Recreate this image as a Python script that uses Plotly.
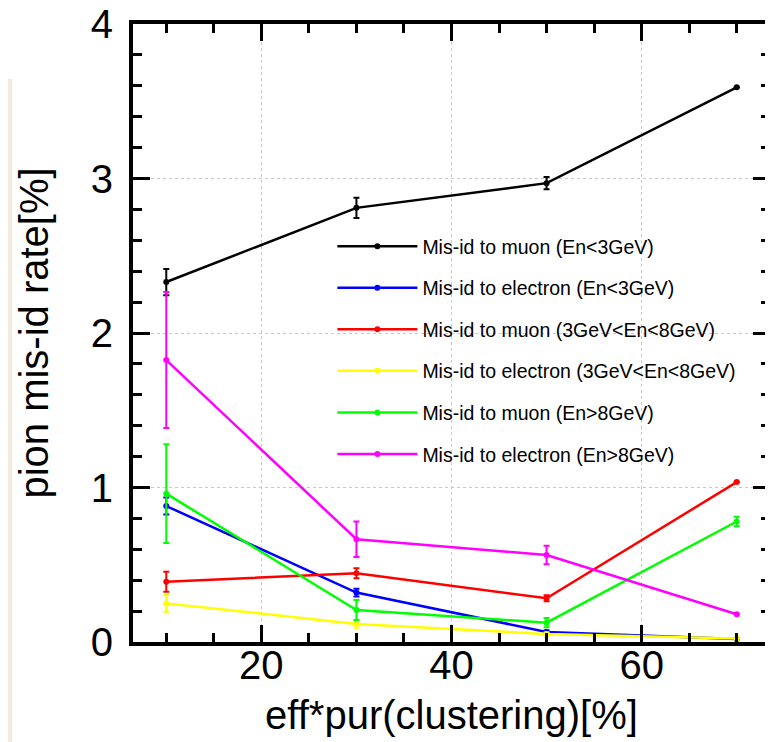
import plotly.graph_objects as go

x_vals = [10, 30, 50, 70]

names = [
    "Mis-id to muon (En<3GeV)",
    "Mis-id to electron (En<3GeV)",
    "Mis-id to muon (3GeV<En<8GeV)",
    "Mis-id to electron (3GeV<En<8GeV)",
    "Mis-id to muon (En>8GeV)",
    "Mis-id to electron (En>8GeV)",
]
colors = ["#000000", "#0000ff", "#ff0000", "#ffff00", "#00ff00", "#ff00ff"]

mu_low = [2.33, 2.81, 2.97, 3.59]
e_low = [0.88, 0.32, 0.065, 0.02]
mu_mid = [0.39, 0.445, 0.283, 1.035]
e_mid = [0.25, 0.117, 0.052, 0.022]
mu_high = [0.96, 0.207, 0.125, 0.78]
e_high = [1.825, 0.665, 0.563, 0.18]

err_mu_low = [0.085, 0.065, 0.04, 0.0]
err_e_low = [0.055, 0.025, 0.01, 0.0]
err_mu_mid = [0.065, 0.033, 0.02, 0.0]
err_e_mid = [0.055, 0.025, 0.01, 0.0]
err_mu_high = [0.32, 0.065, 0.03, 0.03]
err_e_high = [0.44, 0.115, 0.06, 0.0]

series = [mu_low, e_low, mu_mid, e_mid, mu_high, e_high]
errors = [err_mu_low, err_e_low, err_mu_mid, err_e_mid, err_mu_high, err_e_high]

FONT = "Liberation Sans, Arial, Helvetica, sans-serif"

fig = go.Figure()
for i, (nm, col, ys, es) in enumerate(zip(names, colors, series, errors)):
    fig.add_trace(go.Scatter(
        x=x_vals, y=ys, name=nm, mode="lines+markers",
        line=dict(color=col, width=2.5),
        marker=dict(color=col, size=6),
        error_y=dict(type="data", array=es, visible=True, color=col,
                     thickness=2, width=3),
        legendgroup=f"g{i}",
    ))

axis_common = dict(
    showline=True, linecolor="black", linewidth=4, mirror="allticks",
    ticks="inside", tickcolor="black", tickwidth=3, ticklen=17,
    showgrid=True, gridcolor="#c8c8c8", griddash="dot", gridwidth=1,
    zeroline=False, automargin=False, ticklabeloverflow="allow",
    tickfont=dict(family=FONT, size=40, color="black"),
    title_font=dict(family=FONT, size=40, color="black"),
)

fig.update_xaxes(
    range=[6.5, 73.5], tickmode="array", tickvals=[20, 40, 60],
    title_text="eff*pur(clustering)[%]", title_standoff=16,
    ticklabelstandoff=-15,
    minor=dict(dtick=5, tick0=0, ticks="inside", ticklen=9, tickwidth=3,
               tickcolor="black", showgrid=False),
    **axis_common,
)
fig.update_yaxes(
    range=[0, 4], tickmode="array", tickvals=[0, 1, 2, 3, 4],
    title_text="pion mis-id rate[%]", title_standoff=31,
    ticklabelstandoff=8,
    minor=dict(dtick=0.2, tick0=0, ticks="inside", ticklen=9, tickwidth=3,
               tickcolor="black", showgrid=False),
    **axis_common,
)

fig.add_shape(type="rect", xref="paper", yref="paper",
              x0=-0.1962, x1=-0.19, y0=-0.162, y1=0.911,
              fillcolor="#f3ebdc", line=dict(width=0), layer="below")

fig.update_layout(
    width=765, height=734,
    margin=dict(l=125, r=3, t=16, b=100),
    paper_bgcolor="white", plot_bgcolor="white",
    font=dict(family=FONT, color="black"),
    showlegend=True,
    legend=dict(
        x=0.313, y=0.6715, xanchor="left", yanchor="top",
        bgcolor="rgba(255,255,255,0)", borderwidth=0,
        font=dict(family=FONT, size=19.5, color="black"),
        itemwidth=80, tracegroupgap=13.2, traceorder="grouped",
    ),
)

fig.write_html("out.html")
